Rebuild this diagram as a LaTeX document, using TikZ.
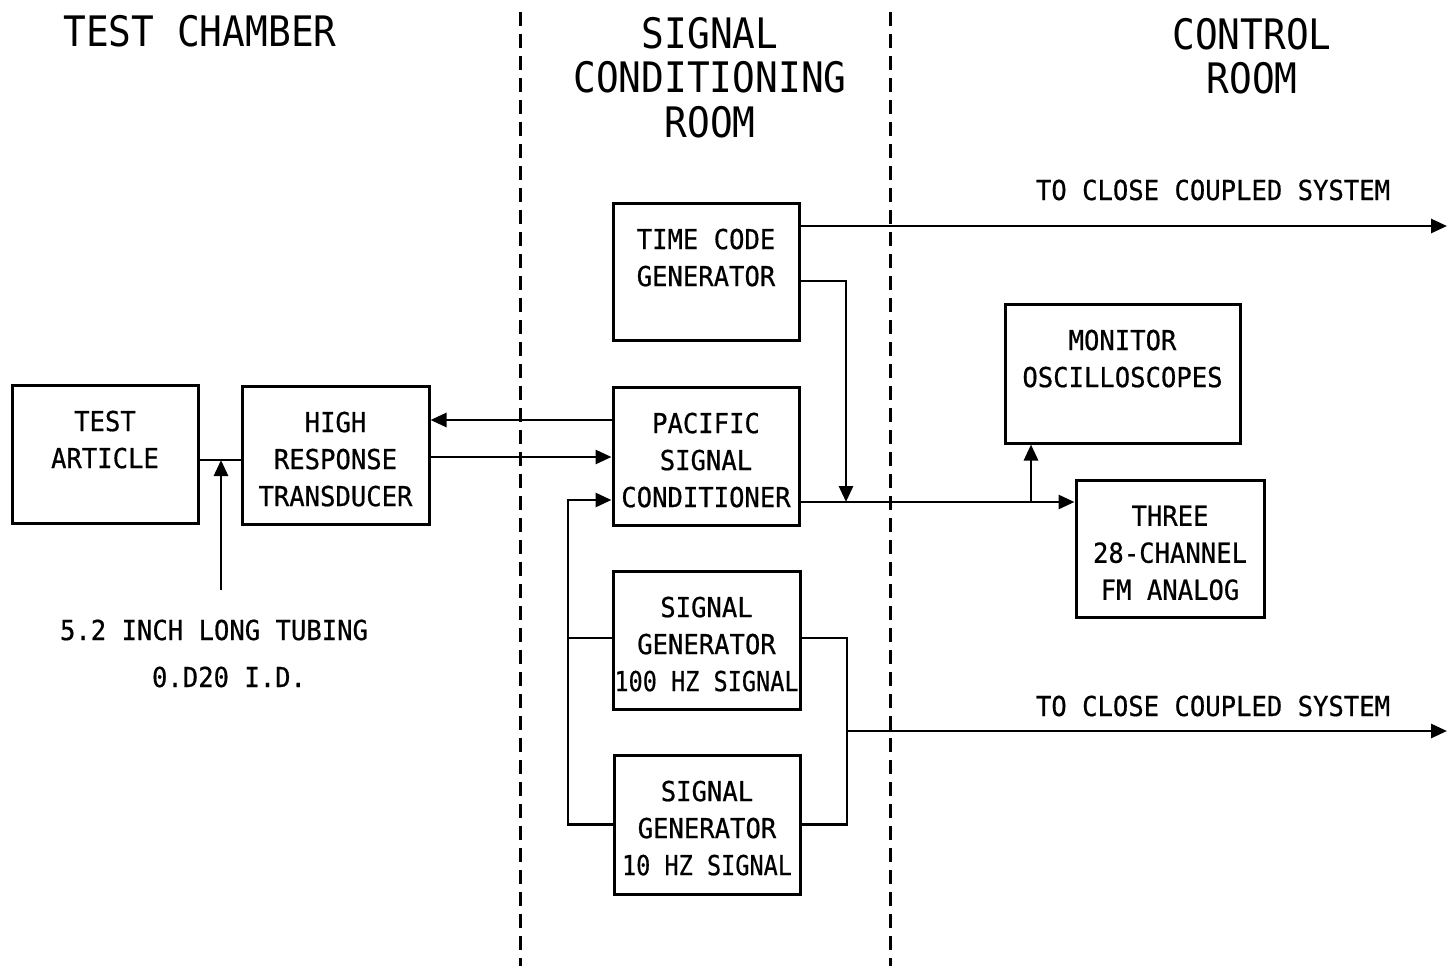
\documentclass[tikz,border=0pt]{standalone}
\usepackage{fontspec}
\newfontfamily\boxfont[FakeStretch=0.95]{DejaVu Sans Mono}
\newfontfamily\boxfontb[FakeStretch=0.93,FakeBold=0.6]{DejaVu Sans Mono}
\newfontfamily\titlefont[FakeStretch=0.9]{DejaVu Sans Mono}
\usetikzlibrary{arrows.meta}
\begin{document}
\begin{tikzpicture}[x=1pt,y=-1pt,
  box/.style={draw,line width=3pt,inner sep=0pt},
  lbl/.style={anchor=north,inner sep=0pt,align=center,font=\boxfontb\fontsize{27.5}{37}\selectfont},
  txt/.style={inner sep=0pt,font=\boxfontb\fontsize{27.5}{37}\selectfont},
  ttl/.style={anchor=north,inner sep=0pt,align=center,font=\titlefont\fontsize{42}{44.5}\selectfont},
  conn/.style={line width=2.8pt},
  arr/.style={conn,-{Triangle[length=16pt,width=14pt]}},
  divider/.style={line width=3pt,dash pattern=on 14pt off 8pt}]
\useasboundingbox (0,0) rectangle (1450,969);
% dividers
\coordinate (d1t) at (520,12); \coordinate (d1b) at (520,966);
\coordinate (d2t) at (890,12); \coordinate (d2b) at (890,966);
\draw[divider] (d1t) -- (d1b);
\draw[divider] (d2t) -- (d2b);
% titles
\node[ttl] (t1) at (200,15) {TEST CHAMBER};
\node[ttl] (t2) at (710,17) {SIGNAL\\CONDITIONING\\ROOM};
\node[ttl] (t3) at (1252,18) {CONTROL\\ROOM};
% boxes
\node[box,minimum width=186pt,minimum height=138pt] (ta) at (105,454) {};
\node[box,minimum width=187pt,minimum height=138pt] (hrt) at (335.5,455) {};
\node[box,minimum width=186pt,minimum height=137pt] (tcg) at (706,271.5) {};
\node[box,minimum width=186pt,minimum height=138pt] (psc) at (706,456) {};
\node[box,minimum width=187pt,minimum height=138pt] (sga) at (706.5,640) {};
\node[box,minimum width=186pt,minimum height=139pt] (sgb) at (707,824.5) {};
\node[box,minimum width=235pt,minimum height=139pt] (mon) at (1122.5,373.5) {};
\node[box,minimum width=188pt,minimum height=137pt] (fm) at (1170,548.5) {};
% box labels
\node[lbl] (tal) at ([yshift=-27pt]ta.north) {TEST\\ARTICLE};
\node[lbl] (hrtl) at ([yshift=-27pt]hrt.north) {HIGH\\RESPONSE\\TRANSDUCER};
\node[lbl] (tcgl) at ([yshift=-27pt]tcg.north) {TIME CODE\\GENERATOR};
\node[lbl] (pscl) at ([yshift=-27pt]psc.north) {PACIFIC\\SIGNAL\\CONDITIONER};
\node[lbl] (sgal) at ([yshift=-27pt]sga.north) {SIGNAL\\GENERATOR\\\scalebox{0.92}[1]{100 HZ SIGNAL}};
\node[lbl] (sgbl) at ([yshift=-27pt]sgb.north) {SIGNAL\\GENERATOR\\\scalebox{0.92}[1]{10 HZ SIGNAL}};
\node[lbl] (monl) at ([yshift=-27pt]mon.north) {MONITOR\\OSCILLOSCOPES};
\node[lbl] (fml) at ([yshift=-27pt]fm.north) {THREE\\28-CHANNEL\\FM ANALOG};
% free texts
\node[txt] (ccs1) at (1213,190) {TO CLOSE COUPLED SYSTEM};
\node[txt] (ccs2) at (1213,706) {TO CLOSE COUPLED SYSTEM};
\node[txt] (tub1) at (214,630) {5.2 INCH LONG TUBING};
\node[txt] (tub2) at (229,677) {0.D20 I.D.};
% coordinates
\coordinate (tube) at (221,590);
\coordinate (j1) at (221,460);
\coordinate (j2) at (846,502);
\coordinate (j3) at (1031,502);
\coordinate (j4) at (847,731);
\coordinate (fbx) at (568,825);
\coordinate (out1) at (1447,226);
\coordinate (out2) at (1447,731);
% connectors
\draw[conn] ([yshift=-6pt]ta.east) -- ([yshift=-5pt]hrt.west);
\draw[arr] (tube) -- (j1);
\draw[arr] ([yshift=36pt]psc.west) -- ([yshift=36pt]psc.west -| hrt.east);
\draw[arr] ([yshift=-2pt]hrt.east) -- ([yshift=-2pt]hrt.east -| psc.west);
\draw[arr] (sgb.west) -- (sgb.west -| fbx) |- ([yshift=-44pt]psc.west);
\draw[conn] ([yshift=2pt]sga.west) -- ([yshift=2pt]sga.west -| fbx);
\draw[arr] (tcg.east |- out1) -- (out1);
\draw[arr] ([yshift=-9.5pt]tcg.east) -| (j2);
\draw[arr] ([yshift=-46pt]psc.east) -- ([yshift=-46pt]psc.east -| fm.west);
\draw[arr] (j3) -- (j3 |- mon.south);
\draw[conn] ([yshift=2pt]sga.east) -| (j4);
\draw[conn] (sgb.east) -| (j4);
\draw[arr] (j4) -- (out2);
\end{tikzpicture}
\end{document}
